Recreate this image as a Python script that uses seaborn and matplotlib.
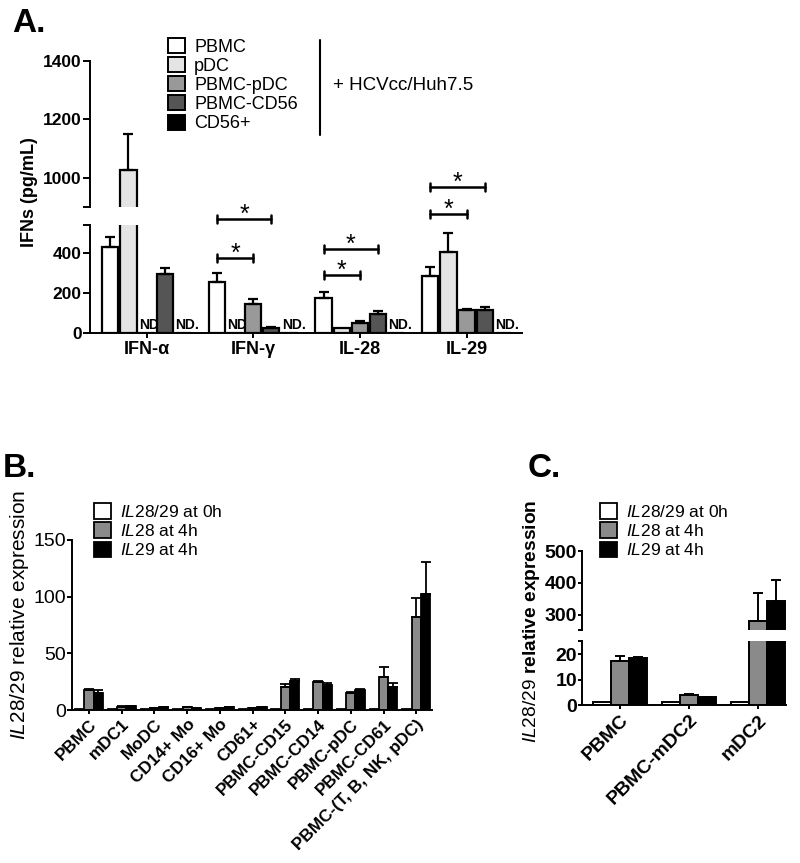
import numpy as np
import pandas as pd
import matplotlib
matplotlib.use("Agg")
import matplotlib.pyplot as plt
import seaborn as sns
from matplotlib.patches import Patch
from matplotlib.lines import Line2D

sns.set_theme(style="ticks")
plt.rcParams['font.family'] = ['Liberation Sans', 'DejaVu Sans']
plt.rcParams['mathtext.fontset'] = 'custom'
plt.rcParams['mathtext.rm'] = 'Liberation Sans'
plt.rcParams['mathtext.it'] = 'Liberation Sans:italic'
plt.rcParams['mathtext.bf'] = 'Liberation Sans:bold'
for k in ['text.color', 'axes.labelcolor', 'xtick.color', 'ytick.color', 'axes.edgecolor']:
    plt.rcParams[k] = 'black'

# ---------------- Panel A data ----------------
a_groups = ["IFN-α", "IFN-γ", "IL-28", "IL-29"]
a_cells = ["PBMC", "pDC", "PBMC-pDC", "PBMC-CD56", "CD56+"]
a_pbmc = [430, 255, 175, 285]
a_pdc = [1025, 0, 25, 405]
a_pbmc_pdc = [0, 145, 52, 115]
a_pbmc_cd56 = [295, 25, 95, 115]
a_cd56 = [0, 0, 0, 0]
a_pbmc_err = [50, 45, 30, 45]
a_pdc_err = [125, 0, 0, 95]
a_pbmc_pdc_err = [0, 25, 10, 5]
a_pbmc_cd56_err = [30, 5, 15, 15]
a_cd56_err = [0, 0, 0, 0]
a_nd = [("IFN-α", "PBMC-pDC"), ("IFN-α", "CD56+"), ("IFN-γ", "pDC"),
        ("IFN-γ", "CD56+"), ("IL-28", "CD56+"), ("IL-29", "CD56+")]
# significance brackets: (group, from, to, height in pg/mL)
a_sig = [("IFN-γ", "PBMC", "PBMC-CD56", 570), ("IFN-γ", "PBMC", "PBMC-pDC", 375),
         ("IL-28", "PBMC", "PBMC-CD56", 420), ("IL-28", "PBMC", "PBMC-pDC", 290),
         ("IL-29", "PBMC", "PBMC-CD56", 730), ("IL-29", "PBMC", "PBMC-pDC", 595)]
a_colors = ["#ffffff", "#e4e4e4", "#999999", "#555555", "#000000"]

# ---------------- Panel B data ----------------
b_cats = ["PBMC", "mDC1", "MoDC", "CD14+ Mo", "CD16+ Mo", "CD61+", "PBMC-CD15",
          "PBMC-CD14", "PBMC-pDC", "PBMC-CD61", "PBMC-(T, B, NK, pDC)"]
b_series = ["IL28/29 at 0h", "IL28 at 4h", "IL29 at 4h"]
b_0h = [1, 1, 1, 1, 1, 1, 1, 1, 1, 1, 1]
b_il28 = [18, 3, 2, 2.5, 1.5, 1.5, 20, 24.5, 15, 29, 82]
b_il29 = [15, 3.5, 2.5, 2, 2.5, 2.5, 25.5, 22, 17.5, 20, 102]
b_0h_err = [0] * 11
b_il28_err = [0.5, 0.3, 0.2, 0.2, 0.2, 0.2, 3, 1, 1, 9, 17]
b_il29_err = [2.5, 0.3, 0.2, 0.2, 0.3, 0.3, 1.5, 2, 1, 4, 29]

# ---------------- Panel C data ----------------
c_cats = ["PBMC", "PBMC-mDC2", "mDC2"]
c_0h = [1, 1, 1]
c_il28 = [17.5, 4, 280]
c_il29 = [18.5, 3, 345]
c_0h_err = [0, 0, 0]
c_il28_err = [2, 0.3, 90]
c_il29_err = [0.5, 0.2, 63]

bc_colors = ["#ffffff", "#8a8a8a", "#000000"]

# ---------------- build tables ----------------
def long_table(cats, series, values, errs, catcol, sercol):
    rows = []
    for s, vals, es in zip(series, values, errs):
        for c, v, e in zip(cats, vals, es):
            rows.append({catcol: c, sercol: s, "value": v, "err": e})
    return pd.DataFrame(rows)

dfA = long_table(a_groups, a_cells, [a_pbmc, a_pdc, a_pbmc_pdc, a_pbmc_cd56, a_cd56],
                 [a_pbmc_err, a_pdc_err, a_pbmc_pdc_err, a_pbmc_cd56_err, a_cd56_err],
                 "group", "cell")
dfB = long_table(b_cats, b_series, [b_0h, b_il28, b_il29],
                 [b_0h_err, b_il28_err, b_il29_err], "cat", "series")
dfC = long_table(c_cats, b_series, [c_0h, c_il28, c_il29],
                 [c_0h_err, c_il28_err, c_il29_err], "cat", "series")

LW = 1.4

def draw_bars(ax, df, catcol, sercol, cats, series, colors, width, gap, lw):
    sns.barplot(data=df, x=catcol, y="value", hue=sercol, order=cats, hue_order=series,
                palette=dict(zip(series, colors)), saturation=1, edgecolor="black",
                linewidth=lw, width=width, gap=gap, errorbar=None, legend=False, ax=ax)
    centers = {}
    for s, cont in zip(series, ax.containers):
        sub = df[df[sercol] == s].set_index(catcol)
        for c, bar in zip(cats, cont.patches):
            x = bar.get_x() + bar.get_width() / 2
            centers[(c, s)] = (x, bar.get_x(), bar.get_width())
            v = sub.loc[c, "value"]
            e = sub.loc[c, "err"]
            if e > 0:
                ax.errorbar([x], [v], yerr=[[0], [e]], fmt="none", ecolor="black",
                            elinewidth=lw, capsize=3.5, capthick=lw, zorder=3)
    return centers

def style_axis(ax, bottom=True, ylen=3.5, xlen=3.2, pad=0.8):
    sns.despine(ax=ax, top=True, right=True, bottom=not bottom)
    for sp in ["left", "bottom"]:
        ax.spines[sp].set_linewidth(LW)
    ax.tick_params(axis="y", width=LW, length=ylen, pad=pad, direction="out", colors="black")
    ax.tick_params(axis="x", width=LW, length=xlen, pad=pad + 1, direction="out", colors="black")
    ax.set_xlabel("")
    ax.set_ylabel("")
    ax.patch.set_visible(False)

fig = plt.figure(figsize=(8, 8.63), dpi=100)
W, H = 800, 863
def fx(px):
    return px / W
def fy(py):
    return 1 - py / H

# ================= Panel A =================
axAu = fig.add_axes([fx(90), fy(207), fx(522) - fx(90), fy(61) - fy(207)])
axAl = fig.add_axes([fx(90), fy(333), fx(522) - fx(90), fy(225) - fy(333)])
for ax in (axAl, axAu):
    draw_bars(ax, dfA, "group", "cell", a_groups, a_cells, a_colors, 0.85, 0.1, 1.6)
    ax.set_xlim(-0.53, 3.52)
    style_axis(ax, bottom=(ax is axAl), ylen=5, xlen=3.5, pad=1)
cenA = {}
for s, cont in zip(a_cells, axAl.containers):
    for c, bar in zip(a_groups, cont.patches):
        cenA[(c, s)] = (bar.get_x() + bar.get_width() / 2, bar.get_x(), bar.get_width())

axAl.set_ylim(0, 540)
axAl.set_yticks([0, 200, 400, 540])
axAl.set_yticklabels(["0", "200", "400", ""])
axAu.set_ylim(900, 1400)
axAu.set_yticks([900, 1000, 1200, 1400])
axAu.set_yticklabels(["", "1000", "1200", "1400"])
axAu.set_xticks([])
axAu.tick_params(axis="x", length=0)
for ax in (axAl, axAu):
    for lab in ax.get_yticklabels():
        lab.set_fontsize(12.5)
        lab.set_fontweight("bold")
axAl.set_xticks(range(len(a_groups)))
axAl.set_xticklabels(a_groups, fontsize=13, fontweight="bold")

for g, cell in a_nd:
    x, left, w = cenA[(g, cell)]
    axAl.text(left + 0.005, 4, "ND.", fontsize=10, fontweight="bold", ha="left",
              va="bottom", zorder=0.5)

for g, s1, s2, h in a_sig:
    x1 = cenA[(g, s1)][0]
    x2 = cenA[(g, s2)][0]
    axAl.plot([x1, x2], [h, h], color="black", lw=1.8, clip_on=False, zorder=4)
    for xx in (x1, x2):
        axAl.plot([xx, xx], [h - 20, h + 20], color="black", lw=1.8, clip_on=False, zorder=4)
    axAl.text((x1 + x2) / 2, h + 22, "*", fontsize=18, ha="center",
              va="center", clip_on=False, zorder=5)

fig.text(fx(30), fy(192), "IFNs (pg/mL)", rotation=90, ha="center", va="center",
         fontsize=13, fontweight="bold")
fig.text(fx(12), fy(23), "A.", fontsize=24, fontweight="bold", ha="left", va="center")

handlesA = [Patch(facecolor=c, edgecolor="black", linewidth=1.4) for c in a_colors]
fig.legend(handlesA, a_cells, loc="upper left", bbox_to_anchor=(fx(168), fy(38)),
           frameon=False, fontsize=13, handlelength=0.95, handleheight=0.9,
           handletextpad=0.5, labelspacing=0.08, borderpad=0, borderaxespad=0)
fig.add_artist(Line2D([fx(320), fx(320)], [fy(40), fy(135)], color="black", lw=1.5))
fig.text(fx(333), fy(85), "+ HCVcc/Huh7.5", fontsize=13.5, ha="left", va="center")

# ================= Panel B =================
axB = fig.add_axes([fx(72), fy(710), fx(432) - fx(72), fy(540) - fy(710)])
draw_bars(axB, dfB, "cat", "series", b_cats, b_series, bc_colors, 0.85, 0.0, 1.3)
axB.set_xlim(-0.52, 10.48)
axB.set_ylim(0, 150)
style_axis(axB, ylen=3.6, xlen=3.2, pad=0.6)
axB.set_yticks([0, 50, 100, 150])
axB.set_yticklabels(["0", "50", "100", "150"], fontsize=14)
axB.set_xticks(range(len(b_cats)))
axB.set_xticklabels(b_cats, rotation=45, ha="right", rotation_mode="anchor",
                    fontsize=12.3, fontweight="bold")
fig.text(fx(20), fy(615), r"$\mathit{IL28/29}$ relative expression", rotation=90,
         ha="center", va="center", fontsize=15)
fig.text(fx(3), fy(468), "B.", fontsize=24, fontweight="bold", ha="left", va="center")

leg_labels = [r"$\mathit{IL28/29}$ at 0h", r"$\mathit{IL28}$ at 4h", r"$\mathit{IL29}$ at 4h"]
handlesB = [Patch(facecolor=c, edgecolor="black", linewidth=1.3) for c in bc_colors]
axB.legend(handlesB, leg_labels, loc="upper left", bbox_to_anchor=(fx(94), fy(503)),
           bbox_transform=fig.transFigure, frameon=False, fontsize=12.5,
           handlelength=1.0, handleheight=1.0, handletextpad=0.5, labelspacing=0.15,
           borderpad=0, borderaxespad=0)

# ================= Panel C =================
axCu = fig.add_axes([fx(582), fy(630), fx(786) - fx(582), fy(551) - fy(630)])
axCl = fig.add_axes([fx(582), fy(705), fx(786) - fx(582), fy(641) - fy(705)])
for ax in (axCl, axCu):
    draw_bars(ax, dfC, "cat", "series", c_cats, b_series, bc_colors, 0.78, 0.0, 1.4)
    ax.set_xlim(-0.55, 2.4)
    style_axis(ax, bottom=(ax is axCl), ylen=3.0, xlen=3.2, pad=0.6)
axCl.set_ylim(0, 25.3)
axCl.set_yticks([0, 10, 20, 25.3])
axCl.set_yticklabels(["0", "10", "20", ""])
axCu.set_ylim(253, 500)
axCu.set_yticks([253, 300, 400, 500])
axCu.set_yticklabels(["", "300", "400", "500"])
axCu.set_xticks([])
for ax in (axCl, axCu):
    for lab in ax.get_yticklabels():
        lab.set_fontsize(14)
        lab.set_fontweight("bold")
axCl.set_xticks(range(len(c_cats)))
axCl.set_xticklabels(c_cats, rotation=45, ha="right", rotation_mode="anchor",
                     fontsize=14, fontweight="bold")
fig.text(fx(532), fy(621), r"$\mathit{IL28/29}$ relative expression", rotation=90,
         ha="center", va="center", fontsize=13.8, fontweight="bold")
fig.text(fx(528), fy(468), "C.", fontsize=24, fontweight="bold", ha="left", va="center")
handlesC = [Patch(facecolor=c, edgecolor="black", linewidth=1.3) for c in bc_colors]
axCu.legend(handlesC, leg_labels, loc="upper left", bbox_to_anchor=(fx(600), fy(503)),
            bbox_transform=fig.transFigure, frameon=False, fontsize=12.5,
            handlelength=1.0, handleheight=1.0, handletextpad=0.5, labelspacing=0.15,
            borderpad=0, borderaxespad=0)

fig.savefig("out.png", dpi=100)
